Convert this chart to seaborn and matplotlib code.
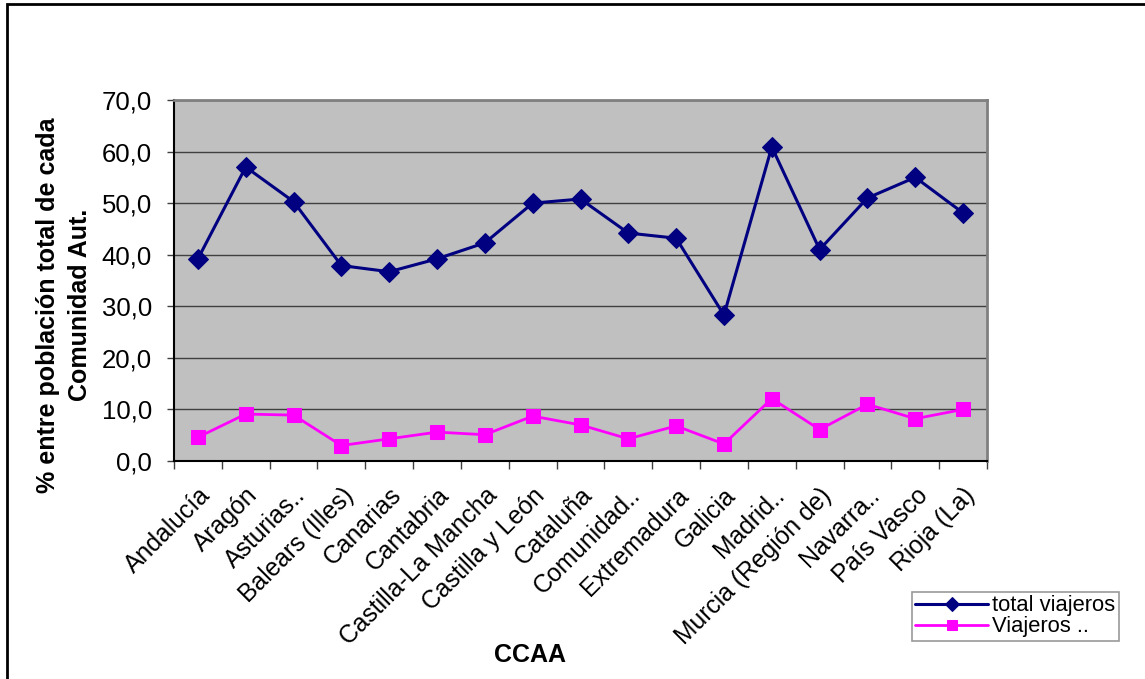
import numpy as np
import pandas as pd
import matplotlib
matplotlib.use("Agg")
import matplotlib.pyplot as plt
import seaborn as sns
from matplotlib.patches import Rectangle

ccaa = ["Andalucía", "Aragón", "Asturias..", "Balears (Illes)", "Canarias",
        "Cantabria", "Castilla-La Mancha", "Castilla y León", "Cataluña",
        "Comunidad..", "Extremadura", "Galicia", "Madrid..",
        "Murcia (Región de)", "Navarra..", "País Vasco", "Rioja (La)"]
total_viajeros = [39.2, 57.0, 50.3, 37.9, 36.7, 39.2, 42.3, 50.0, 50.8,
                  44.2, 43.2, 28.3, 60.9, 41.0, 51.0, 55.0, 48.1]
viajeros_otros = [4.6, 9.1, 8.9, 3.0, 4.3, 5.6, 5.1, 8.7, 7.0,
                  4.3, 6.8, 3.3, 12.1, 6.1, 11.0, 8.2, 10.0]

df = pd.DataFrame({"pos": np.arange(len(ccaa)), "ccaa": ccaa,
                   "total viajeros": total_viajeros,
                   "Viajeros ..": viajeros_otros})

sns.set_style("white")
plt.rcParams["font.family"] = ["Liberation Sans", "DejaVu Sans"]
plt.rcParams["text.color"] = "black"
plt.rcParams["xtick.color"] = "black"
plt.rcParams["ytick.color"] = "black"

fig = plt.figure(figsize=(11.45, 6.79), dpi=100)
ax = fig.add_axes([174 / 1145, 1 - 461 / 679, 813 / 1145, 361 / 679])
ax.set_facecolor("#C0C0C0")

sns.lineplot(data=df, x="pos", y="total viajeros", ax=ax, color="#000080",
             marker="D", markersize=10, markeredgecolor="#000080",
             linewidth=2.2, label="total viajeros", sort=False)
sns.lineplot(data=df, x="pos", y="Viajeros ..", ax=ax, color="#FF00FF",
             marker="s", markersize=10.5, markeredgecolor="#FF00FF",
             linewidth=2, label="Viajeros ..", sort=False)

ax.set_xlim(-0.5, len(ccaa) - 0.5)
ax.set_ylim(0, 70)
ax.set_yticks(np.arange(0, 71, 10))
ax.set_yticklabels([f"{v:.1f}".replace(".", ",") for v in range(0, 71, 10)],
                   fontsize=18.5)
ax.yaxis.grid(True, color="#404040", linewidth=1)
ax.set_axisbelow(True)

ax.set_xticks(np.arange(len(ccaa)))
ax.set_xticklabels(ccaa, rotation=45, ha="right", rotation_mode="anchor",
                   fontsize=17.8)
ax.set_xticks(np.arange(-0.5, len(ccaa), 1), minor=True)
ax.tick_params(axis="x", which="major", length=0, pad=16)
ax.tick_params(axis="x", which="minor", length=6, width=1, color="#404040",
               direction="out", bottom=True)
ax.tick_params(axis="y", length=5, width=1, color="#404040", direction="out",
               left=True, pad=11)

for side in ["left", "bottom"]:
    ax.spines[side].set_color("black")
    ax.spines[side].set_linewidth(1.5)
for side in ["top", "right"]:
    ax.spines[side].set_color("#808080")
    ax.spines[side].set_linewidth(2)

ax.set_xlabel("")
ax.set_ylabel("")
fig.text(64 / 1145, 1 - 305 / 679,
         "% entre población total de cada\nComunidad Aut.",
         rotation=90, ha="center", va="center", multialignment="center",
         fontsize=18, fontweight="bold", linespacing=1.4)
fig.text(530 / 1145, 1 - 655 / 679, "CCAA", ha="center", va="center",
         fontsize=18, fontweight="bold")

leg = ax.legend(loc="upper left", bbox_to_anchor=(912 / 1145, 1 - 592 / 679),
                bbox_transform=fig.transFigure, fontsize=15.8, frameon=True,
                fancybox=False, edgecolor="#808080", borderpad=0.15,
                labelspacing=0.0, handlelength=3.3, handletextpad=0.2,
                borderaxespad=0)
leg.get_frame().set_linewidth(1.2)
for h in leg.legend_handles:
    h.set_markersize(7.5)

fig.patches.append(Rectangle((7 / 1145, -0.1), 1.2, 1 - 4 / 679 + 0.1,
                             transform=fig.transFigure, fill=False,
                             edgecolor="black", linewidth=2, clip_on=False))

fig.savefig("out.png", dpi=100, facecolor="white")
